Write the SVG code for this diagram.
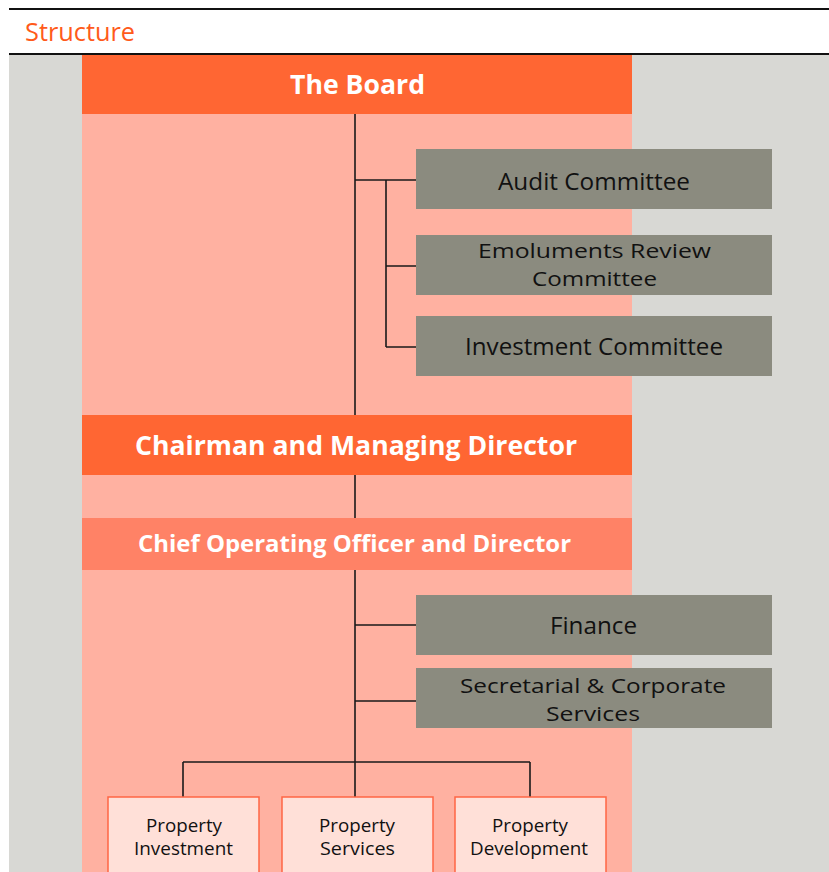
<svg xmlns="http://www.w3.org/2000/svg" width="829" height="872" viewBox="0 0 829 872">
<style>
.sans{font-family:"Open Sans","Noto Sans","DejaVu Sans",sans-serif}
.hdr{fill:#ff6633}
.hdrt{fill:#ffffff;font-weight:bold}
.gbox{fill:#8b8b7f}
.gt{fill:#111111;font-size:23px}
.gt2{fill:#111111;font-size:20.5px}
.pbox{fill:#ffe0d8;stroke:#ff6644;stroke-width:1.5}
.pt{fill:#111111;font-size:18.5px}
.ln{stroke:#1a1a1a;stroke-width:1.6;fill:none}
</style>
<rect x="0" y="0" width="829" height="872" fill="#ffffff"/>
<rect x="9" y="55" width="820" height="817" fill="#d8d8d4"/>
<rect x="82" y="55" width="550" height="817" fill="#ffb1a1"/>
<line x1="9" y1="9" x2="829" y2="9" stroke="#111" stroke-width="2"/>
<line x1="9" y1="54" x2="829" y2="54" stroke="#111" stroke-width="2"/>
<text x="25" y="41" class="sans" font-size="25" fill="#ff5a1a" textLength="110" lengthAdjust="spacingAndGlyphs">Structure</text>

<g id="connectors">
<path class="ln" d="M355 114V415M355 180H416M386 180V347M386 266H416M386 347H416"/>
<path class="ln" d="M355 475V518"/>
<path class="ln" d="M355 570V797M355 625H416M355 701H416M183 762H530M183 762V797M530 762V797"/>
</g>

<g id="board"><rect class="hdr" x="82" y="55" width="550" height="59"/><text x="290" y="94" class="sans hdrt" font-size="27" textLength="135" lengthAdjust="spacingAndGlyphs">The Board</text></g>
<g id="audit"><rect class="gbox" x="416" y="149" width="356" height="60"/><text x="498" y="190" class="sans gt" textLength="192" lengthAdjust="spacingAndGlyphs">Audit Committee</text></g>
<g id="emoluments"><rect class="gbox" x="416" y="235" width="356" height="60"/><text x="478" y="258" class="sans gt2" textLength="233" lengthAdjust="spacingAndGlyphs">Emoluments Review</text><text x="532" y="286" class="sans gt2" textLength="125" lengthAdjust="spacingAndGlyphs">Committee</text></g>
<g id="investment"><rect class="gbox" x="416" y="316" width="356" height="60"/><text x="465" y="355" class="sans gt" textLength="258" lengthAdjust="spacingAndGlyphs">Investment Committee</text></g>
<g id="chairman"><rect class="hdr" x="82" y="415" width="550" height="60"/><text x="135" y="455" class="sans hdrt" font-size="26.7" textLength="442" lengthAdjust="spacingAndGlyphs">Chairman and Managing Director</text></g>
<g id="coo"><rect x="82" y="518" width="550" height="52" fill="#ff8266"/><text x="138" y="552" class="sans hdrt" font-size="23.5" textLength="433" lengthAdjust="spacingAndGlyphs">Chief Operating Officer and Director</text></g>
<g id="finance"><rect class="gbox" x="416" y="595" width="356" height="60"/><text x="550" y="634" class="sans gt" textLength="87" lengthAdjust="spacingAndGlyphs">Finance</text></g>
<g id="secretarial"><rect class="gbox" x="416" y="668" width="356" height="60"/><text x="460" y="693" class="sans gt2" textLength="266" lengthAdjust="spacingAndGlyphs">Secretarial &amp; Corporate</text><text x="546" y="721" class="sans gt2" textLength="94" lengthAdjust="spacingAndGlyphs">Services</text></g>
<g id="propinv"><rect class="pbox" x="108" y="797" width="151" height="80"/><text x="146" y="832" class="sans pt" textLength="76" lengthAdjust="spacingAndGlyphs">Property</text><text x="134" y="855" class="sans pt" textLength="99" lengthAdjust="spacingAndGlyphs">Investment</text></g>
<g id="propserv"><rect class="pbox" x="282" y="797" width="151" height="80"/><text x="319" y="832" class="sans pt" textLength="76" lengthAdjust="spacingAndGlyphs">Property</text><text x="320" y="855" class="sans pt" textLength="75" lengthAdjust="spacingAndGlyphs">Services</text></g>
<g id="propdev"><rect class="pbox" x="455" y="797" width="151" height="80"/><text x="492" y="832" class="sans pt" textLength="76" lengthAdjust="spacingAndGlyphs">Property</text><text x="470" y="855" class="sans pt" textLength="118" lengthAdjust="spacingAndGlyphs">Development</text></g>
</svg>
